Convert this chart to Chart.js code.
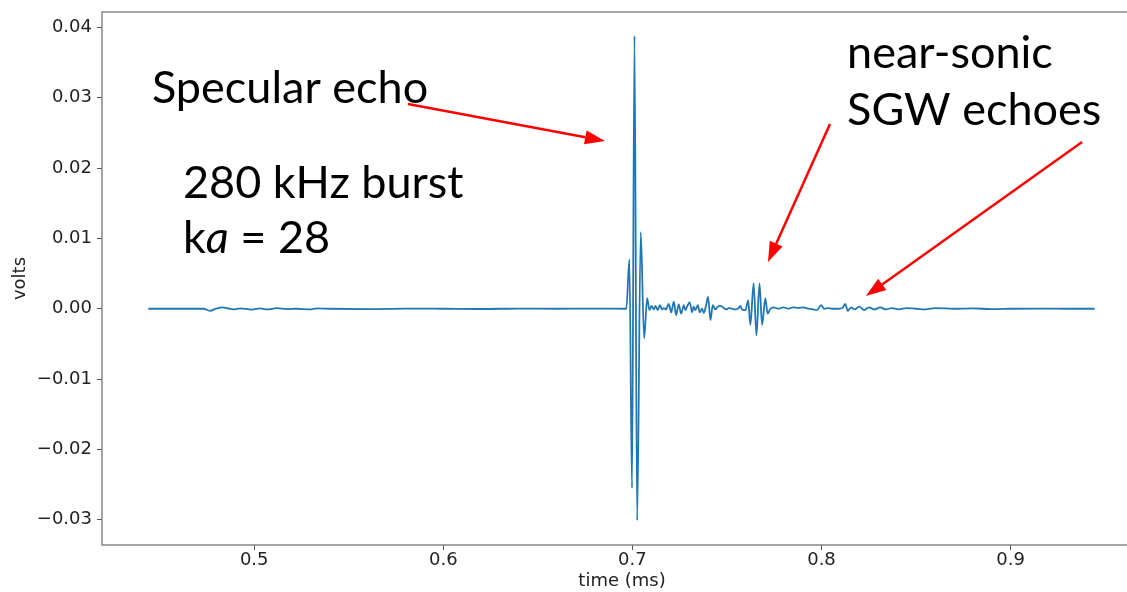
<!DOCTYPE html>
<html>
<head>
<meta charset="utf-8">
<script src="https://cdn.jsdelivr.net/npm/chart.js@4/dist/chart.umd.min.js"></script>
<style>
    html, body { margin: 0; padding: 0; overflow: hidden; background: #fff; }
</style>
</head>
<body>
<canvas id="sinal" width="1142" height="592"></canvas>
<script>
// sinal do hidrofone (ms, volts)
const timeMs = [
    0.4440, 0.4731, 0.4766, 0.4798, 0.4833, 0.4868, 0.4889, 0.4925, 0.4987, 0.5031,
    0.5066, 0.5119, 0.5172, 0.5225, 0.5295, 0.5330, 0.5400, 0.5600, 0.5800, 0.6000,
    0.6200, 0.6400, 0.6600, 0.6800, 0.6968,
    0.6984, 0.6998, 0.7011, 0.7025, 0.7044, 0.7062, 0.7078,
    0.7090, 0.7101, 0.7113, 0.7122, 0.7134, 0.7145, 0.7157, 0.7166, 0.7178, 0.7192,
    0.7205, 0.7219, 0.7231, 0.7245, 0.7258, 0.7272, 0.7280, 0.7289, 0.7303, 0.7316,
    0.7324, 0.7333, 0.7346, 0.7356, 0.7369, 0.7377, 0.7390, 0.7400, 0.7413, 0.7425,
    0.7439, 0.7451, 0.7466, 0.7483, 0.7497, 0.7510, 0.7527, 0.7545, 0.7562, 0.7571,
    0.7580, 0.7598,
    0.7612, 0.7624, 0.7641, 0.7656, 0.7672, 0.7686, 0.7703, 0.7715, 0.7730,
    0.7745, 0.7772, 0.7798, 0.7825, 0.7851, 0.7878, 0.7904, 0.7931, 0.7957, 0.7975,
    0.7998, 0.8014, 0.8037, 0.8058, 0.8090, 0.8111, 0.8125, 0.8139, 0.8157, 0.8175,
    0.8200, 0.8225, 0.8250, 0.8280, 0.8310, 0.8340, 0.8370, 0.8410, 0.8450, 0.8500,
    0.8550, 0.8600, 0.8700, 0.8800, 0.8900, 0.9000, 0.9150, 0.9300, 0.9445
];
const volts = [
    0, 0, -0.0003, 0, 0.0002, 0, -0.0001, 0.00005, -0.00012, 0.00005,
    -0.0001, 0.00008, -0.00005, 0, -0.0001, 0.00005, 0, -0.00005, 0.00003, 0,
    -0.00004, 0.00003, 0, 0.00002, 0,
    0.0070, -0.0255, 0.0388, -0.0301, 0.0109, -0.0042, 0.0015,
    -0.0002, 0.0004, -0.0001, 0.0004, -0.0002, 0.0005, -0.0001, 0.0001, -0.0001, 0.0007,
    -0.0005, 0.0010, -0.0009, 0.0006, -0.0007, 0.0005, -0.0002, 0.0003, 0.0009, -0.0005,
    0.0003, -0.0002, 0.0005, -0.0005, 0.0000, -0.0006, 0.0005, 0.0017, -0.0016, 0.0005,
    -0.0001, 0.0003, 0.0004, 0.0001, -0.0001, 0.0001, 0.0000, -0.0001, 0.0001, 0.0004,
    -0.0001, -0.0002,
    0.0012, -0.0023, 0.0036, -0.0038, 0.0036, -0.0023, 0.0015, -0.0007, 0.0000,
    0.0002, 0, 0.0002, 0, 0.0002, 0.0001, 0.0002, 0, -0.0001, -0.0002,
    0.0005, 0, 0.0001, 0, 0, 0.0001, 0.0007, -0.0003, 0.0002, -0.0001,
    0.0003, -0.0002, 0.0002, -0.0001, 0.0002, -0.0001, 0.0001, -0.0001, 0.0001, 0,
    -0.0001, 0.0001, 0, 0.00005, -0.00005, 0, 0.00003, 0, 0
];

const xTicks = [0.5, 0.6, 0.7, 0.8, 0.9];
const yTicks = [-0.03, -0.02, -0.01, 0.00, 0.01, 0.02, 0.03, 0.04];

// textos e setas sobrepostos (em coordenadas dos dados)
const noteText = ['Specular echo', '280 kHz burst', ['k', 'a', ' = 28'], 'near-sonic', 'SGW echoes'];
const noteT = [0.4459, 0.4623, 0.4623, 0.8135, 0.8135];
const noteV = [0.02926, 0.01575, 0.00793, 0.03424, 0.02613];

const arrowFromT = [0.5813, 0.8045, 0.9378];
const arrowFromV = [0.02912, 0.02627, 0.02371];
const arrowToT = [0.6855, 0.7717, 0.8235];
const arrowToV = [0.02385, 0.00665, 0.00181];

const frame = {
    id: 'frame',
    beforeDatasetsDraw(chart) {
        const {ctx, chartArea: a} = chart;
        ctx.save();
        ctx.strokeStyle = '#777';
        ctx.lineWidth = 1.3;
        ctx.strokeRect(a.left, a.top, a.right - a.left, a.bottom - a.top);
        ctx.restore();
    }
};

const notas = {
    id: 'notas',
    afterDatasetsDraw(chart) {
        const ctx = chart.ctx;
        const sx = chart.scales.x, sy = chart.scales.y;
        ctx.save();
        ctx.fillStyle = '#000';
        ctx.textBaseline = 'alphabetic';
        ctx.textAlign = 'left';
        noteText.forEach((txt, i) => {
            let x = sx.getPixelForValue(noteT[i]);
            let y = sy.getPixelForValue(noteV[i]);
            let partes = Array.isArray(txt) ? txt : [txt];
            partes.forEach((p, j) => {
                ctx.font = (j % 2 === 1 ? 'italic ' : '') + '45px Lato';
                ctx.fillText(p, x, y);
                x += ctx.measureText(p).width;
            });
        });

        ctx.strokeStyle = '#ff0000';
        ctx.fillStyle = '#ff0000';
        ctx.lineWidth = 2.5;
        arrowFromT.forEach((t, i) => {
            let x0 = sx.getPixelForValue(t), y0 = sy.getPixelForValue(arrowFromV[i]);
            let x1 = sx.getPixelForValue(arrowToT[i]), y1 = sy.getPixelForValue(arrowToV[i]);
            let ang = Math.atan2(y1 - y0, x1 - x0);
            let head = 20, half = 7;
            let bx = x1 - head * Math.cos(ang), by = y1 - head * Math.sin(ang);
            ctx.beginPath();
            ctx.moveTo(x0, y0);
            ctx.lineTo(bx, by);
            ctx.stroke();
            ctx.beginPath();
            ctx.moveTo(x1, y1);
            ctx.lineTo(bx + half * Math.sin(ang), by - half * Math.cos(ang));
            ctx.lineTo(bx - half * Math.sin(ang), by + half * Math.cos(ang));
            ctx.closePath();
            ctx.fill();
        });
        ctx.restore();
    }
};

const tickFont = {family: 'DejaVu Sans', size: 18};

new Chart('sinal', {
    type: 'line',
    data: {
        datasets: [{
            data: timeMs.map((t, i) => ({x: t, y: volts[i]})),
            borderColor: '#1f77b4',
            borderWidth: 1.8,
            pointRadius: 0,
            cubicInterpolationMode: 'monotone',
            fill: false,
        }],
    },
    options: {
        responsive: false,
        animation: false,
        layout: {padding: {top: 12, left: 0, right: 0, bottom: 0}},
        plugins: {
            legend: {display: false},
            tooltip: {enabled: false},
        },
        scales: {
            x: {
                type: 'linear',
                min: 0.4195,
                max: 0.9695,
                afterBuildTicks: scale => { scale.ticks = xTicks.map(v => ({value: v})); },
                afterFit: scale => {
                    scale.height = 47;
                    scale.paddingLeft = 0;
                    scale.paddingRight = 0;
                },
                grid: {drawOnChartArea: false, tickLength: 5, color: '#555', tickWidth: 1},
                border: {display: false},
                ticks: {
                    font: tickFont,
                    color: '#222',
                    padding: 0,
                    autoSkip: false,
                    maxRotation: 0,
                    callback: v => v.toFixed(1),
                },
                title: {
                    display: true,
                    text: 'time (ms)',
                    font: tickFont,
                    color: '#222',
                    padding: {top: 0, bottom: 0},
                },
            },
            y: {
                min: -0.0336,
                max: 0.0422,
                afterBuildTicks: scale => { scale.ticks = yTicks.map(v => ({value: v})); },
                afterFit: scale => {
                    scale.width = 102;
                    scale.paddingTop = 0;
                    scale.paddingBottom = 0;
                },
                grid: {drawOnChartArea: false, tickLength: 5, color: '#555', tickWidth: 1},
                border: {display: false},
                ticks: {
                    font: tickFont,
                    color: '#222',
                    padding: 5,
                    callback: v => v.toFixed(2).replace('-', '\u2212'),
                },
                title: {
                    display: true,
                    text: 'volts',
                    font: tickFont,
                    color: '#222',
                    padding: {top: 10, bottom: 0},
                },
            },
        },
    },
    plugins: [frame, notas],
});
</script>
</body>
</html>
